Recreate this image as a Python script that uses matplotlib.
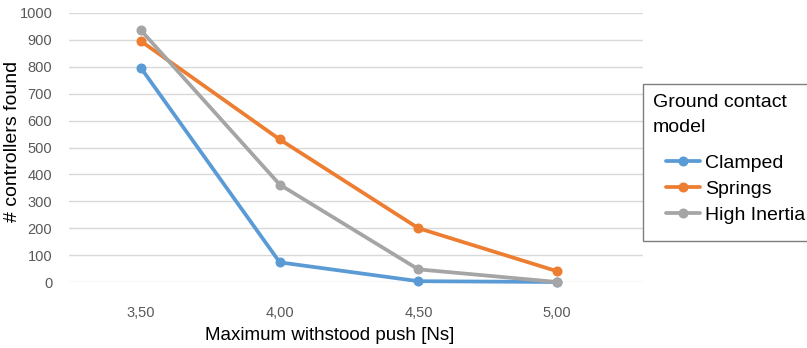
import matplotlib
matplotlib.use("Agg")
import matplotlib.pyplot as plt
from matplotlib.patches import Rectangle

categories = ["3,50", "4,00", "4,50", "5,00"]
clamped = [795, 73, 3, 0]
springs = [895, 530, 200, 40]
high_inertia = [935, 362, 47, 0]
yticks = [0, 100, 200, 300, 400, 500, 600, 700, 800, 900, 1000]

plt.rcParams['font.family'] = ['Liberation Sans', 'DejaVu Sans']

W, H = 807, 348
fig = plt.figure(figsize=(W/100, H/100), dpi=100)
ax = fig.add_axes([69/W, 1-282/H, (643-69)/W, (282-13)/H])

x = list(range(len(categories)))
series = [("Clamped", clamped, "#5B9BD5"),
          ("Springs", springs, "#ED7D31"),
          ("High Inertia", high_inertia, "#A5A5A5")]
for name, vals, col in series:
    ax.plot(x, vals, color=col, lw=2.7, marker='o', ms=6.2, label=name,
            solid_capstyle='round', clip_on=False)

ax.set_xlim(-0.52, 3.62)
ax.set_ylim(0, 1000)
ax.set_yticks(yticks)
ax.set_xticks(x)
ax.set_xticklabels(categories)
ax.grid(axis='y', color='#d9d9d9', lw=1)
ax.set_axisbelow(True)
for s in ax.spines.values():
    s.set_visible(False)
ax.tick_params(length=0, labelsize=10.5, labelcolor='#595959')
ax.tick_params(axis='y', pad=12)
ax.tick_params(axis='x', pad=17)

fig.text(13/W, 1-141/H, "# controllers found", fontsize=14, rotation=90,
         ha='center', va='center')
fig.text(330/W, 1-335/H, "Maximum withstood push [Ns]", fontsize=13.5,
         ha='center', va='center')

# legend frame and title
fig.patches.append(Rectangle((643/W, 1-241/H), (830-643)/W, (241-84)/H,
                             transform=fig.transFigure, facecolor='white',
                             edgecolor='#7f7f7f', lw=1, zorder=5))
fig.text(653/W, 1-103/H, "Ground contact", fontsize=14, ha='left',
         va='center', zorder=6)
fig.text(653/W, 1-128/H, "model", fontsize=14, ha='left', va='center',
         zorder=6)

leg = fig.legend(loc='center left', bbox_to_anchor=(666/W, 1-189/H),
                 borderaxespad=0, borderpad=0, fontsize=14, frameon=False,
                 handlelength=1.75, handletextpad=0.25, labelspacing=0.42)
leg.set_zorder(7)

fig.savefig("out.png", dpi=100)
